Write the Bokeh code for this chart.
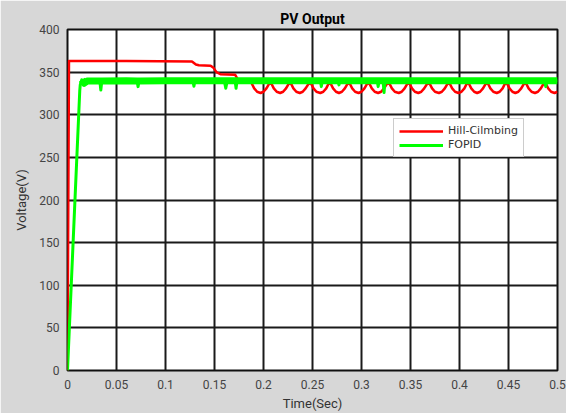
from bokeh.plotting import figure
from bokeh.models import Range1d, FixedTicker, Legend, LegendItem
from bokeh.embed import file_html
from bokeh.resources import INLINE

# ---- data ----
x_ticks = [0, 0.05, 0.1, 0.15, 0.2, 0.25, 0.3, 0.35, 0.4, 0.45, 0.5]
x_tick_labels = ["0", "0.05", "0.1", "0.15", "0.2", "0.25", "0.3", "0.35", "0.4", "0.45", "0.5"]
y_ticks = [0, 50, 100, 150, 200, 250, 300, 350, 400]
y_tick_labels = ["0", "50", "100", "150", "200", "250", "300", "350", "400"]

hc_t = [0, 0.0015, 0.01, 0.06, 0.127, 0.131, 0.134, 0.146, 0.149, 0.152, 0.156, 0.171, 0.174, 0.178,
        0.187, 0.1905, 0.1935, 0.197, 0.200, 0.203,
        0.207, 0.2105, 0.2135, 0.217, 0.220, 0.223,
        0.227, 0.2305, 0.2335, 0.237, 0.240, 0.243,
        0.2475, 0.251, 0.254, 0.258, 0.261, 0.264,
        0.2675, 0.271, 0.274, 0.277, 0.280, 0.283,
        0.287, 0.2905, 0.2935, 0.297, 0.300, 0.303,
        0.307, 0.3105, 0.3135, 0.317, 0.320, 0.323,
        0.3275, 0.331, 0.334, 0.338, 0.341, 0.344,
        0.348, 0.3515, 0.3545, 0.358, 0.361, 0.364,
        0.3685, 0.372, 0.375, 0.379, 0.382, 0.385,
        0.389, 0.3925, 0.3955, 0.399, 0.402, 0.405,
        0.4085, 0.412, 0.415, 0.418, 0.421, 0.424,
        0.428, 0.4315, 0.4345, 0.438, 0.441, 0.444,
        0.4475, 0.451, 0.454, 0.457, 0.460, 0.463,
        0.467, 0.4705, 0.4735, 0.477, 0.480, 0.483,
        0.487, 0.4905, 0.4935, 0.497, 0.500]
hc_v = [0, 363, 363, 363, 362.5, 359, 358, 357.5, 355, 350, 347.5, 347, 341, 340,
        339, 331, 327, 325.5, 327, 331,
        339, 331, 327, 325.5, 327, 331,
        339, 331, 327, 325.5, 327, 331,
        339, 331, 327, 325.5, 327, 331,
        339, 331, 327, 325.5, 327, 331,
        339, 331, 327, 325.5, 327, 331,
        339, 331, 327, 325.5, 327, 331,
        339, 331, 327, 325.5, 327, 331,
        339, 331, 327, 325.5, 327, 331,
        339, 331, 327, 325.5, 327, 331,
        339, 331, 327, 325.5, 327, 331,
        339, 331, 327, 325.5, 327, 331,
        339, 331, 327, 325.5, 327, 331,
        339, 331, 327, 325.5, 327, 331,
        339, 331, 327, 325.5, 327, 331,
        339, 331, 327, 325.5, 327]

fopid_t = [0, 0.0125, 0.013, 0.0145, 0.017, 0.02, 0.033, 0.034, 0.035, 0.06, 0.071, 0.072, 0.073,
           0.1, 0.128, 0.129, 0.130, 0.16, 0.1615, 0.163, 0.171, 0.172, 0.173, 0.2, 0.258, 0.259,
           0.260, 0.276, 0.277, 0.278, 0.316, 0.317, 0.318, 0.322, 0.323, 0.324, 0.4, 0.487,
           0.488, 0.489, 0.5]
fopid_v = [0, 328, 335, 341, 337, 339.5, 339.5, 329, 339.5, 340, 339.5, 333, 339.5,
           340, 340, 333.5, 340, 340, 331, 340, 340, 331, 340, 340, 340, 333,
           340, 340, 335, 340, 340, 333, 340, 340, 326, 340, 340, 340,
           333, 340, 340]

series_names = ["Hill-Cilmbing", "FOPID"]
series_colors = ["#ff0000", "#00ff00"]

# ---- figure ----
BG = "#d7d7d7"
p = figure(width=566, height=413, output_backend="svg", toolbar_location=None,
           x_range=Range1d(0, 0.5), y_range=Range1d(0, 400),
           min_border_left=67, min_border_right=9, min_border_top=29, min_border_bottom=43)
p.frame_width = 490
p.frame_height = 341
p.border_fill_color = BG
p.background_fill_color = "white"
p.outline_line_color = "#111111"
p.outline_line_width = 2

p.title.text = "PV Output"
p.title.align = "center"
p.title.text_font = "Roboto"
p.title.text_font_size = "14px"
p.title.text_font_style = "bold"
p.title.text_color = "black"
p.title.standoff = 6

p.xaxis.ticker = FixedTicker(ticks=x_ticks)
p.xaxis.major_label_overrides = {t: l for t, l in zip(x_ticks, x_tick_labels)}
p.yaxis.ticker = FixedTicker(ticks=y_ticks)
p.yaxis.major_label_overrides = {t: l for t, l in zip(y_ticks, y_tick_labels)}
p.xaxis.axis_label = "Time(Sec)"
p.yaxis.axis_label = "Voltage(V)"
for ax in (p.xaxis, p.yaxis):
    ax.axis_line_color = None
    ax.major_tick_line_color = None
    ax.minor_tick_line_color = None
    ax.major_tick_out = 0
    ax.major_tick_in = 0
    ax.major_label_text_font = "Roboto"
    ax.major_label_text_font_size = "12px"
    ax.major_label_text_color = "#444444"
    ax.axis_label_text_font = "Roboto"
    ax.axis_label_text_font_size = "13px"
    ax.axis_label_text_font_style = "normal"
    ax.axis_label_text_color = "#333333"
p.xaxis.major_label_standoff = 9
p.yaxis.major_label_standoff = 8
p.xaxis.axis_label_standoff = 4
p.yaxis.axis_label_standoff = 7

for g in (p.xgrid, p.ygrid):
    g.grid_line_color = "#1a1a1a"
    g.grid_line_width = 2
    g.grid_line_alpha = 1

# Hill-Climbing
r_hc = p.line(hc_t, hc_v, line_color=series_colors[0], line_width=2.5, line_join="round")

# FOPID: thin full trace (ramp + spikes) and a thick steady band (spikes left out)
band_t = [t for t, v in zip(fopid_t, fopid_v) if t >= 0.0145 and v >= 337]
band_v = [v for t, v in zip(fopid_t, fopid_v) if t >= 0.0145 and v >= 337]
r_fo = p.line(fopid_t, fopid_v, line_color=series_colors[1], line_width=3, line_join="round")
p.line(band_t, band_v, line_color=series_colors[1], line_width=7, line_join="round")

legend = Legend(items=[LegendItem(label=series_names[0], renderers=[r_hc]),
                       LegendItem(label=series_names[1], renderers=[r_fo])],
                location=(326, 213))
legend.border_line_color = "#999999"
legend.border_line_width = 1
legend.background_fill_color = "white"
legend.background_fill_alpha = 1
legend.label_text_font = "DejaVu Sans"
legend.label_text_font_size = "11px"
legend.label_text_color = "#333333"
legend.glyph_width = 44
legend.glyph_height = 12
legend.label_height = 12
legend.spacing = 1
legend.padding = 5
legend.margin = 0
legend.label_standoff = 5
p.add_layout(legend, "center")

open("out.html", "w").write(file_html(p, INLINE))
